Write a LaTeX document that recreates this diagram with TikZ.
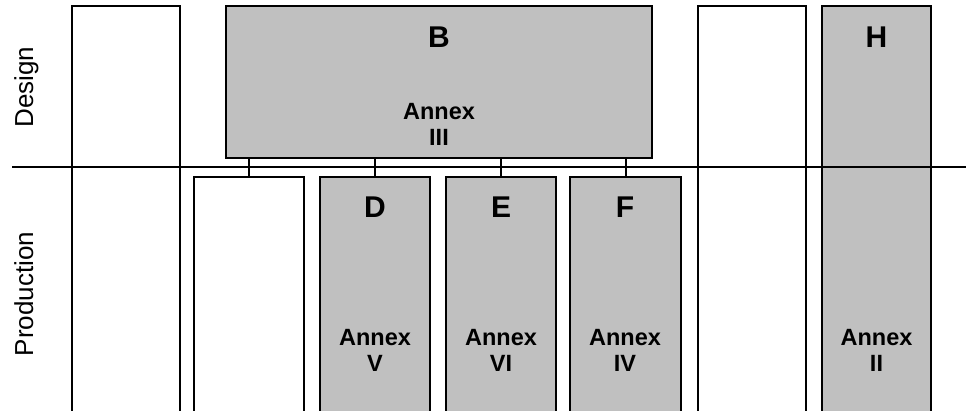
\documentclass[tikz,border=0pt]{standalone}
\usepackage{fontspec}
\setmainfont{Liberation Sans}
\definecolor{boxgray}{RGB}{192,192,192}
\tikzset{
  col/.style={draw=black, line width=2pt, anchor=north west, inner sep=0pt, outer sep=0pt, minimum height=#1},
  col/.default={250pt},
  gray/.style={fill=boxgray},
  big/.style={font=\fontsize{30}{36}\selectfont\bfseries, inner sep=0pt, anchor=base},
  annex/.style={font=\fontsize{23.5}{26.5}\selectfont\bfseries, inner sep=0pt, anchor=north, align=center},
  side/.style={font=\fontsize{26}{30}\selectfont, inner sep=0pt, anchor=base, rotate=90},
  link/.style={draw=black, line width=2pt},
}
\begin{document}
\begin{tikzpicture}[x=1pt,y=-1pt]
\useasboundingbox (0,0) rectangle (966,411);
\fill[white] (0,0) rectangle (966,411);
\clip (0,0) rectangle (966,411);
% design columns
\node[col=430pt, minimum width=108pt] (c1) at (72,6) {};
\node[col=152pt, minimum width=426pt, gray] (B) at (226,6) {};
\node[col=430pt, minimum width=108pt] (c7) at (698,6) {};
\node[col=430pt, minimum width=109pt, gray] (H) at (822,6) {};
% production boxes
\node[col=260pt, minimum width=110pt] (p1) at (194,177) {};
\node[col=260pt, minimum width=110pt, gray] (D) at (320,177) {};
\node[col=260pt, minimum width=110pt, gray] (E) at (446,177) {};
\node[col=260pt, minimum width=111pt, gray] (F) at (570,177) {};
% dividing line
\coordinate (l0) at (12,167);
\coordinate (l1) at (970,167);
\draw[link] (l0) -- (l1);
% connectors
\foreach \n in {p1,D,E,F} { \draw[link] (B.south -| \n.north) -- (\n.north); }
% texts
\node[big] (tB) at (439,48) {B};
\node[annex] (aB) at (439,103) {Annex\\III};
\node[big] (tD) at (375,218) {D};
\node[annex] (aD) at (375,329) {Annex\\V};
\node[big] (tE) at (501,218) {E};
\node[annex] (aE) at (501,329) {Annex\\VI};
\node[big] (tF) at (625,218) {F};
\node[annex] (aF) at (625,329) {Annex\\IV};
\node[big] (tH) at (876.5,48) {H};
\node[annex] (aH) at (876.5,329) {Annex\\II};
\node[side] (design) at (33,87) {Design};
\node[side] (prod) at (33,294) {Production};
\end{tikzpicture}
\end{document}
